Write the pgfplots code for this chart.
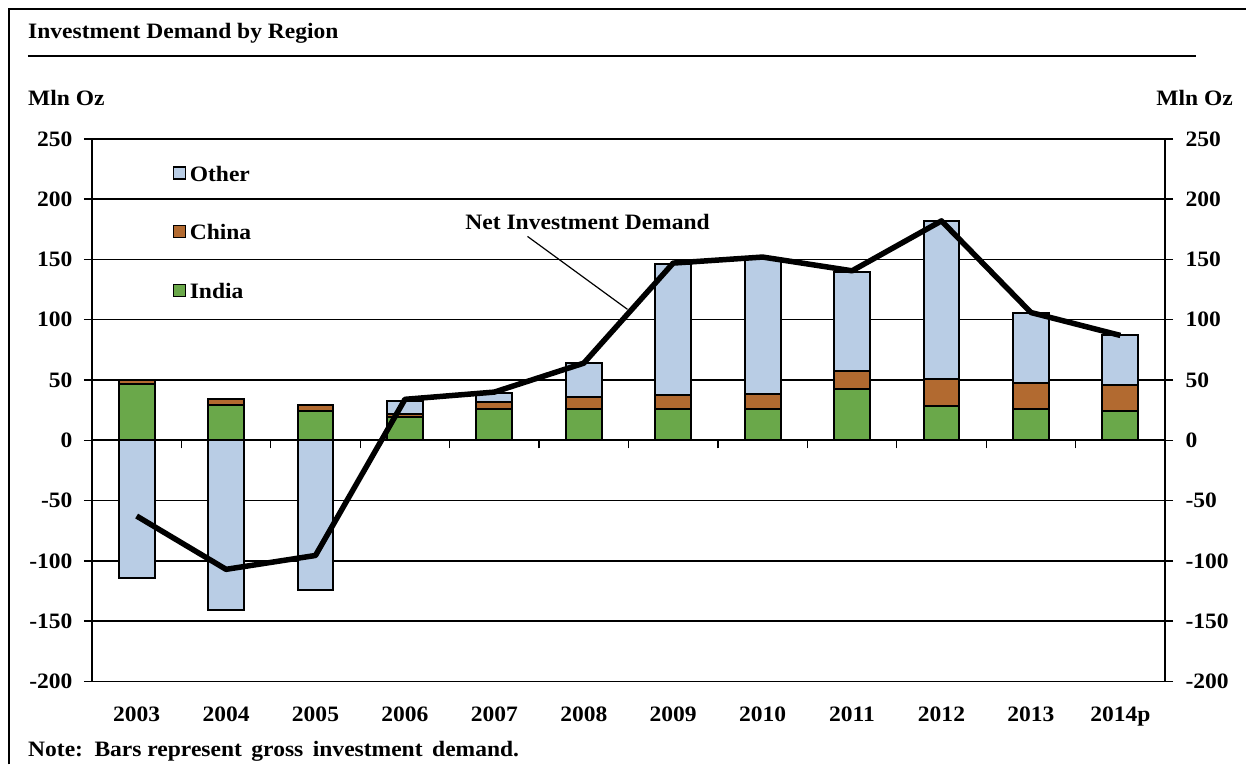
\documentclass[border=0pt]{standalone}
\usepackage{fontspec}
\setmainfont{Liberation Serif}[FakeStretch=1.07]
\usepackage{pgfplots}
\pgfplotsset{compat=1.18}
\definecolor{cOther}{RGB}{185,205,229}
\definecolor{cChina}{RGB}{178,106,48}
\definecolor{cIndia}{RGB}{106,168,74}
\newcommand{\ff}{\bfseries\fontsize{22}{26}\selectfont}
\pgfplotsset{mybar/.style={ybar, bar width=36pt, bar shift=0pt, draw=black, line width=2pt,
  legend image code/.code={\draw[##1,line width=1.3pt] (0pt,-5pt) rectangle (12pt,7pt);}}}
\begin{document}
\begin{tikzpicture}
\path (0,0) rectangle (1247pt,-765pt);
\draw[line width=2pt] (9pt,-765pt) -- (9pt,-9pt) -- (1247pt,-9pt);
\node[anchor=base west, inner sep=0pt, font=\ff] at (28pt,-39pt) {Investment Demand by Region};
\draw[line width=1.6pt] (28pt,-56pt) -- (1197pt,-56pt);
\node[anchor=base west, inner sep=0pt, font=\ff] at (28pt,-106pt) {Mln Oz};
\node[anchor=base east, inner sep=0pt, font=\ff] at (1234pt,-106pt) {Mln Oz};
\node[anchor=base west, inner sep=0pt, font=\ff] at (28pt,-757pt) {Note:\, Bars represent\, gross\, investment\, demand.};
\begin{axis}[at={(92pt,-682pt)}, anchor=south west, scale only axis,
  width=1074pt, height=543pt,
  xmin=-0.5, xmax=11.5, ymin=-200, ymax=250,
  ytick={-200,-150,...,250},
  xtick={0,...,11},
  xticklabels={2003,2004,2005,2006,2007,2008,2009,2010,2011,2012,2013,2014p},
  axis x line*=bottom, axis y line*=left,
  x axis line style={-, line width=1.6pt},
  y axis line style={-, line width=1.6pt},
  xtick style={draw=none},
  ytick style={black, line width=1.4pt},
  tick align=outside, major tick length=8pt,
  ymajorgrids, grid style={black, line width=1.4pt},
  ticklabel style={font=\ff},
  xticklabel style={yshift=-14pt},
  yticklabel style={xshift=-8pt},
  /pgf/number format/assume math mode=true,
  legend style={at={(axis cs:0.405,227.2)}, anchor=north west, draw=none, fill=none,
    inner sep=0pt, outer sep=0pt, font=\ff, row sep=44pt,
    nodes={inner sep=0pt, text height=14pt, text depth=0pt}},
  legend cell align=left,
]
\addplot[mybar, fill=cOther] coordinates {(0,-114.4) (1,-140.6) (2,-124) (3,32.7) (4,39) (5,64) (6,146) (7,150) (8,139.8) (9,181.6) (10,105.5) (11,87.2)};
\addlegendentry{\,Other}
\addplot[mybar, fill=cChina] coordinates {(0,50.4) (1,34) (2,29) (3,22) (4,32) (5,36) (6,37.4) (7,38.8) (8,57.3) (9,50.7) (10,47.3) (11,45.7)};
\addlegendentry{\,China}
\addplot[mybar, fill=cIndia] coordinates {(0,47) (1,29) (2,24) (3,19) (4,25.7) (5,25.7) (6,25.7) (7,25.7) (8,42.4) (9,28.5) (10,26) (11,24)};
\addlegendentry{\,India}
\addplot[black, line width=5.5pt, line join=round, forget plot] coordinates {(0,-62.8) (1,-107) (2,-95.5) (3,34) (4,40) (5,64) (6,147) (7,152) (8,140.6) (9,182) (10,106) (11,87)};
\node[font=\ff, anchor=base, inner sep=0pt] at (axis cs:5.043,174.9) {Net Investment Demand};
\draw[black, line width=1.2pt] (axis cs:4.371,169.1) -- (axis cs:5.489,108.6);
\end{axis}
\begin{axis}[at={(92pt,-682pt)}, anchor=south west, scale only axis,
  width=1074pt, height=543pt,
  xmin=-0.5, xmax=11.5, ymin=-200, ymax=250,
  ytick={-200,-150,...,250},
  xtick={0.5,1.5,...,10.5}, xticklabels={},
  axis x line=middle, axis y line*=right,
  x axis line style={-, line width=2pt},
  y axis line style={-, line width=1.6pt},
  tick style={black, line width=1.4pt},
  xtick style={/pgfplots/major tick length=8pt},
  tick align=outside, major tick length=8pt,
  ticklabel style={font=\ff},
  yticklabel style={xshift=9pt},
  /pgf/number format/assume math mode=true,
]
\addplot[draw=none, forget plot] coordinates {(0,0)};
\end{axis}
\end{tikzpicture}
\end{document}
